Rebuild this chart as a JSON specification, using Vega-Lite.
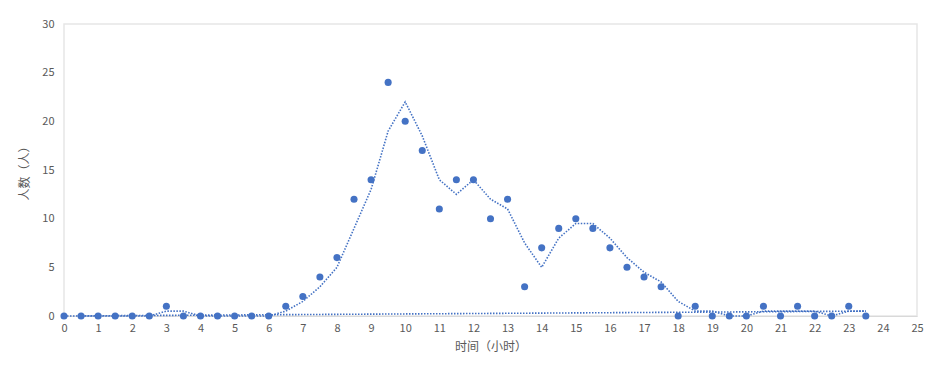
{
  "$schema": "https://vega.github.io/schema/vega-lite/v6.json",
  "width": 853,
  "height": 292,
  "autosize": {"type": "none"},
  "padding": {"left": 64, "top": 24, "right": 19, "bottom": 50},
  "background": "white",
  "config": {
    "view": {"stroke": "#e6e6e6", "strokeWidth": 1.5},
    "font": "Noto Sans CJK SC",
    "axis": {"labelColor": "#595959", "titleColor": "#595959", "labelFontSize": 11, "titleFontSize": 12, "titleFontWeight": "normal", "grid": false, "ticks": false}
  },
  "datasets": {
    "pts": [
      {"h":0,"n":0},{"h":0.5,"n":0},{"h":1,"n":0},{"h":1.5,"n":0},{"h":2,"n":0},{"h":2.5,"n":0},
      {"h":3,"n":1},{"h":3.5,"n":0},{"h":4,"n":0},{"h":4.5,"n":0},{"h":5,"n":0},{"h":5.5,"n":0},
      {"h":6,"n":0},{"h":6.5,"n":1},{"h":7,"n":2},{"h":7.5,"n":4},{"h":8,"n":6},{"h":8.5,"n":12},
      {"h":9,"n":14},{"h":9.5,"n":24},{"h":10,"n":20},{"h":10.5,"n":17},{"h":11,"n":11},{"h":11.5,"n":14},
      {"h":12,"n":14},{"h":12.5,"n":10},{"h":13,"n":12},{"h":13.5,"n":3},{"h":14,"n":7},{"h":14.5,"n":9},
      {"h":15,"n":10},{"h":15.5,"n":9},{"h":16,"n":7},{"h":16.5,"n":5},{"h":17,"n":4},{"h":17.5,"n":3},
      {"h":18,"n":0},{"h":18.5,"n":1},{"h":19,"n":0},{"h":19.5,"n":0},{"h":20,"n":0},{"h":20.5,"n":1},
      {"h":21,"n":0},{"h":21.5,"n":1},{"h":22,"n":0},{"h":22.5,"n":0},{"h":23,"n":1},{"h":23.5,"n":0}
    ],
    "ma": [
      {"h":0.5,"n":0},{"h":1,"n":0},{"h":1.5,"n":0},{"h":2,"n":0},{"h":2.5,"n":0},{"h":3,"n":0.5},
      {"h":3.5,"n":0.5},{"h":4,"n":0},{"h":4.5,"n":0},{"h":5,"n":0},{"h":5.5,"n":0},{"h":6,"n":0},
      {"h":6.5,"n":0.5},{"h":7,"n":1.5},{"h":7.5,"n":3},{"h":8,"n":5},{"h":8.5,"n":9},{"h":9,"n":13},
      {"h":9.5,"n":19},{"h":10,"n":22},{"h":10.5,"n":18.5},{"h":11,"n":14},{"h":11.5,"n":12.5},{"h":12,"n":14},
      {"h":12.5,"n":12},{"h":13,"n":11},{"h":13.5,"n":7.5},{"h":14,"n":5},{"h":14.5,"n":8},{"h":15,"n":9.5},
      {"h":15.5,"n":9.5},{"h":16,"n":8},{"h":16.5,"n":6},{"h":17,"n":4.5},{"h":17.5,"n":3.5},{"h":18,"n":1.5},
      {"h":18.5,"n":0.5},{"h":19,"n":0.5},{"h":19.5,"n":0},{"h":20,"n":0},{"h":20.5,"n":0.5},{"h":21,"n":0.5},
      {"h":21.5,"n":0.5},{"h":22,"n":0.5},{"h":22.5,"n":0},{"h":23,"n":0.5},{"h":23.5,"n":0.5}
    ],
    "trend": [{"h":0,"n":0.0},{"h":23.5,"n":0.5}]
  },
  "encoding": {
    "x": {"field": "h", "type": "quantitative", "scale": {"domain": [0, 25], "nice": false},
      "axis": {"title": "时间（小时）", "values": [0,1,2,3,4,5,6,7,8,9,10,11,12,13,14,15,16,17,18,19,20,21,22,23,24,25], "format": "d", "labelOverlap": false, "labelFlush": false, "labelBound": false, "domainColor": "#d9d9d9", "labelPadding": 6, "titlePadding": 8}},
    "y": {"field": "n", "type": "quantitative", "scale": {"domain": [0, 30], "nice": false},
      "axis": {"title": "人数（人）", "values": [0,5,10,15,20,25,30], "labelOverlap": false, "labelFlush": false, "domain": false, "labelPadding": 10, "titlePadding": 10}}
  },
  "layer": [
    {
      "data": {"name": "trend"},
      "mark": {"type": "line", "color": "#4472C4", "strokeDash": [1.5, 1.5], "strokeWidth": 1.6}
    },
    {
      "data": {"name": "ma"},
      "mark": {"type": "line", "color": "#4472C4", "strokeDash": [1.5, 1.5], "strokeWidth": 1.6}
    },
    {
      "data": {"name": "pts"},
      "mark": {"type": "point", "filled": true, "color": "#4472C4", "size": 50, "opacity": 1}
    }
  ]
}
